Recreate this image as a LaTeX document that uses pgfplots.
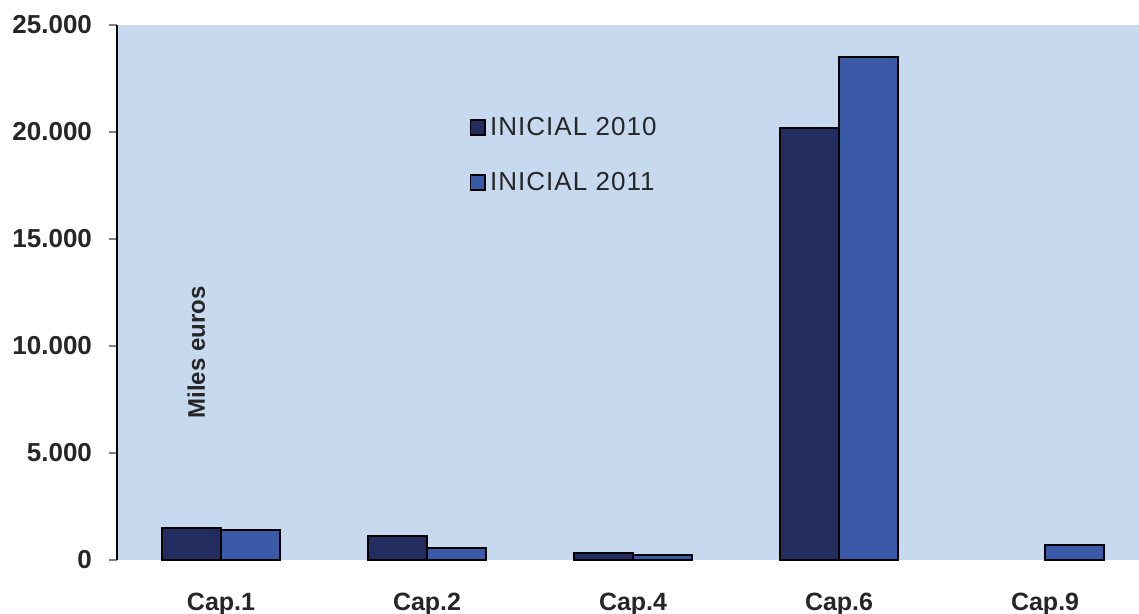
\documentclass[border=0pt]{standalone}
\usepackage{fontspec}
\setmainfont{Liberation Sans}
\usepackage{pgfplots}
\pgfplotsset{compat=1.18}
\definecolor{bgblue}{HTML}{C6D9EE}
\definecolor{c2010}{HTML}{232C5F}
\definecolor{c2011}{HTML}{3A5AA8}
\begin{document}
\begin{tikzpicture}
\begin{axis}[
  scale only axis,
  width=511pt, height=267.5pt,
  xmin=-0.505, xmax=4.456,
  ymin=0, ymax=25000,
  axis background/.style={fill=bgblue},
  axis y line*=left,
  axis x line*=bottom,
  x axis line style={draw=none},
  y axis line style={black, line width=0.6pt},
  ytick={0,5000,10000,15000,20000,25000},
  xtick={0,1,2,3,4},
  xticklabels={Cap.1,Cap.2,Cap.4,Cap.6,Cap.9},
  xtick style={draw=none},
  ytick style={gray, line width=0.8pt},
  tick align=outside,
  major tick length=4pt,
  scaled y ticks=false,
  /pgf/number format/.cd, 1000 sep={.}, assume math mode=true,
  /pgfplots/.cd,
  yticklabel style={font=\fontsize{13}{15}\selectfont\bfseries, text=black!85, xshift=-5pt},
  xticklabel style={font=\fontsize{12.5}{14}\selectfont\bfseries, text=black!85, inner sep=0pt, yshift=-12.5pt},
  ybar,
  bar width=29.5pt,
  legend style={at={(axis cs:1.176,21100)}, anchor=north west, draw=none, fill=none,
    font=\fontsize{13}{15}\selectfont\addfontfeatures{LetterSpace=4}, row sep=13pt, text=black!85},
  legend image code/.code={\draw[#1, line width=0.8pt] (0cm,-0.13cm) rectangle (0.26cm,0.13cm);},
  legend cell align=left,
  clip=false,
]
\addplot[draw=black, line width=1pt, fill=c2010, bar shift=-14.75pt]
  coordinates {(0,1500) (1,1120) (2,330) (3,20200)};
\addplot[draw=black, line width=1pt, fill=c2011, bar shift=14.75pt]
  coordinates {(0,1420) (1,560) (2,230) (3,23500) (4,680)};
\legend{INICIAL 2010,INICIAL 2011}
\node[rotate=90, font=\fontsize{12}{14}\selectfont\bfseries, text=black!85] at (axis cs:-0.12,9700) {Miles euros};
\end{axis}
\pgfresetboundingbox
\path ([xshift=-58.5pt,yshift=-27pt]current axis.south west) rectangle ([yshift=12.5pt]current axis.north east);
\end{tikzpicture}
\end{document}
